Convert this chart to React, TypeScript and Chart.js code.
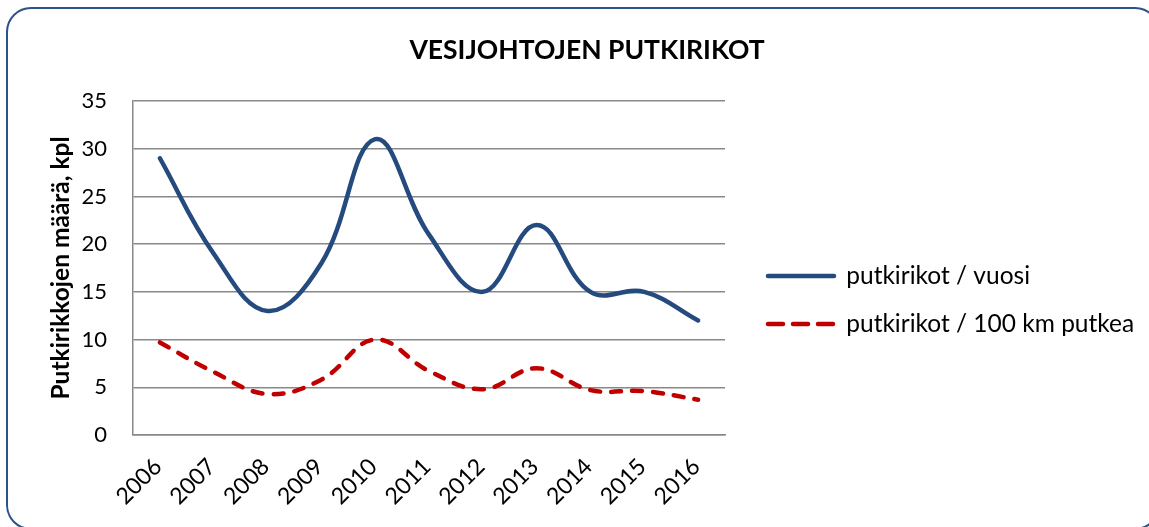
import { useEffect, useRef } from 'react';
import { Chart, registerables } from 'chart.js';

Chart.register(...registerables);

const chartTitle = 'VESIJOHTOJEN PUTKIRIKOT';
const yAxisTitle = 'Putkirikkojen määrä, kpl';
const years = ['2006', '2007', '2008', '2009', '2010', '2011', '2012', '2013', '2014', '2015', '2016'];
const seriesLabels = ['putkirikot / vuosi', 'putkirikot / 100 km putkea'];
const breaksPerYear = [29, 19, 13, 18, 31, 21, 15, 22, 15, 15, 12];
const breaksPer100km = [9.7, 6.6, 4.3, 5.8, 10.0, 6.7, 4.8, 7.0, 4.7, 4.6, 3.7];
const yTicks = [0, 5, 10, 15, 20, 25, 30, 35];

const FONT = 'Lato';
const W = 1149;
const H = 527;
const GRID = '#888888';
const BLUE = '#254a7e';
const RED = '#c00000';
const LEGEND_SIZE = 24.5;
const LEGEND_PAD = 23.5;
const LEGEND_BOX = 66;

export default function App() {
  const ref = useRef<HTMLCanvasElement | null>(null);

  useEffect(() => {
    const canvas = ref.current;
    if (!canvas) return;
    const mctx = document.createElement('canvas').getContext('2d')!;
    mctx.font = `${LEGEND_SIZE}px ${FONT}`;
    const textW = Math.max(...seriesLabels.map((t) => mctx.measureText(t).width));
    const legendW = LEGEND_PAD + LEGEND_BOX + LEGEND_SIZE / 2 + textW + 10;
    const legendLeft = 744.5;
    const padRight = Math.max(0, W - legendLeft - legendW);

    const chart = new Chart(canvas, {
      type: 'line',
      data: {
        labels: years,
        datasets: [
          {
            label: seriesLabels[0],
            data: breaksPerYear,
            borderColor: BLUE,
            backgroundColor: BLUE,
            borderWidth: 4.5,
            borderCapStyle: 'round',
            tension: 0.4,
            pointRadius: 0,
            fill: false,
          },
          {
            label: seriesLabels[1],
            data: breaksPer100km,
            borderColor: RED,
            backgroundColor: RED,
            borderWidth: 4.5,
            borderCapStyle: 'round',
            borderDash: [10, 11],
            tension: 0.4,
            pointRadius: 0,
            fill: false,
          },
        ],
      },
      options: {
        responsive: false,
        animation: false,
        devicePixelRatio: 1,
        events: [],
        layout: { padding: { left: 30, right: padRight, top: 0, bottom: 0 } },
        plugins: {
          tooltip: { enabled: false },
          title: {
            display: true,
            text: chartTitle,
            color: '#000',
            font: { family: FONT, size: 26.5, weight: 'bold', lineHeight: 1.2 },
            padding: { top: 34.1, bottom: 35.1 },
          },
          legend: {
            display: true,
            position: 'right',
            align: 'center',
            maxWidth: 600,
            title: { display: true, text: '', font: { size: 10, lineHeight: 1 }, padding: { top: 0, bottom: 63 } },
            labels: {
              color: '#000',
              font: { family: FONT, size: LEGEND_SIZE },
              padding: LEGEND_PAD,
              usePointStyle: true,
              pointStyle: 'line',
              pointStyleWidth: LEGEND_BOX,
              boxHeight: LEGEND_SIZE,
              generateLabels: (c: any) => {
                const items = (Chart.defaults.plugins.legend.labels as any).generateLabels(c);
                return items.map((it: any, i: number) => ({
                  ...it,
                  lineDash: i === 1 ? [15, 10] : [],
                  lineCap: 'round',
                  pointStyle: 'line',
                }));
              },
            },
          },
        },
        scales: {
          x: {
            type: 'category',
            offset: true,
            grid: { display: false, drawTicks: false },
            border: { display: true, color: GRID, width: 1.5 },
            ticks: {
              autoSkip: false,
              minRotation: 45,
              maxRotation: 45,
              padding: 18,
              labelOffset: -2,
              color: '#000',
              font: { family: FONT, size: 23 },
            },
            afterFit: (s: any) => {
              s.height = 92;
            },
          },
          y: {
            type: 'linear',
            min: 0,
            max: 35,
            afterBuildTicks: (s: any) => {
              s.ticks = yTicks.map((v) => ({ value: v }));
            },
            grid: { color: GRID, lineWidth: 1.5, drawTicks: false },
            border: { display: true, color: GRID, width: 1.5 },
            ticks: {
              padding: 26,
              color: '#000',
              font: { family: FONT, size: 22 },
            },
            title: {
              display: true,
              text: yAxisTitle,
              color: '#000',
              font: { family: FONT, size: 24.5, weight: 'bold', lineHeight: 1.2 },
              padding: { top: 16.8, bottom: 0 },
            },
            afterFit: (s: any) => {
              s.width = 103;
            },
          },
          y2: {
            type: 'linear',
            position: 'right',
            display: true,
            grid: { display: false, drawTicks: false },
            border: { display: false },
            ticks: { display: false },
            afterFit: (s: any) => {
              s.width = 19.5;
            },
          },
        },
      },
    });
    return () => chart.destroy();
  }, []);

  return (
    <div style={{ position: 'fixed', left: 0, top: 0, width: W, height: H, overflow: 'hidden', background: '#fff' }}>
      <canvas ref={ref} width={W} height={H} style={{ position: 'absolute', left: 0, top: 0, display: 'block' }} />
      <div
        style={{
          position: 'absolute',
          left: 6,
          top: 7,
          width: 1154,
          height: 523,
          border: '2.5px solid #2b5388',
          borderRadius: 25,
          boxSizing: 'border-box',
          pointerEvents: 'none',
        }}
      />
    </div>
  );
}
